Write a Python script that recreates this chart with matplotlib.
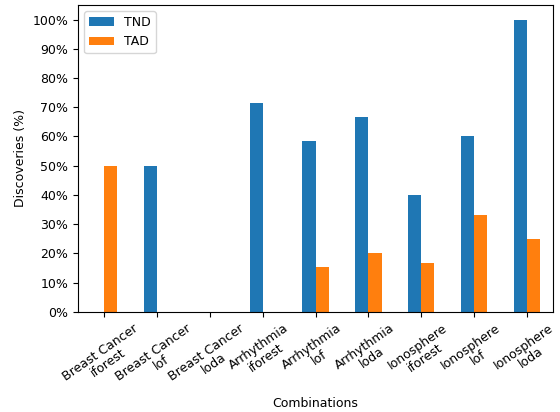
import matplotlib
matplotlib.use('Agg')
import matplotlib.pyplot as plt
import numpy as np
from matplotlib.ticker import PercentFormatter

combos = ['Breast Cancer\niforest', 'Breast Cancer\nlof', 'Breast Cancer\nloda',
          'Arrhythmia\niforest', 'Arrhythmia\nlof', 'Arrhythmia\nloda',
          'Ionosphere\niforest', 'Ionosphere\nlof', 'Ionosphere\nloda']
tnd = [0, 50, 0, 71.4, 58.3, 66.7, 40, 60, 100]
tad = [50, 0, 0, 0, 15.4, 20, 16.7, 33.3, 25]

plt.rcParams['font.size'] = 9

fig = plt.figure(figsize=(5.6, 4.12), dpi=100)
ax = fig.add_axes([0.139, 0.243, 0.849, 0.745])

x = np.arange(len(combos))
w = 0.25
ax.bar(x - w / 2, tnd, w, color='#1f77b4', label='TND')
ax.bar(x + w / 2, tad, w, color='#ff7f0e', label='TAD')

ax.set_xticks(x)
ax.set_xticklabels(combos, rotation=35, ha='center', linespacing=1.0)
ax.set_xlim(-0.5, 8.5)
ax.set_ylim(0, 105)
ax.set_yticks(np.arange(0, 101, 10))
ax.yaxis.set_major_formatter(PercentFormatter(decimals=0))
ax.set_xlabel('Combinations', labelpad=2)
ax.set_ylabel('Discoveries (%)')
ax.legend(loc='upper left')

fig.savefig('out.png', dpi=100)
